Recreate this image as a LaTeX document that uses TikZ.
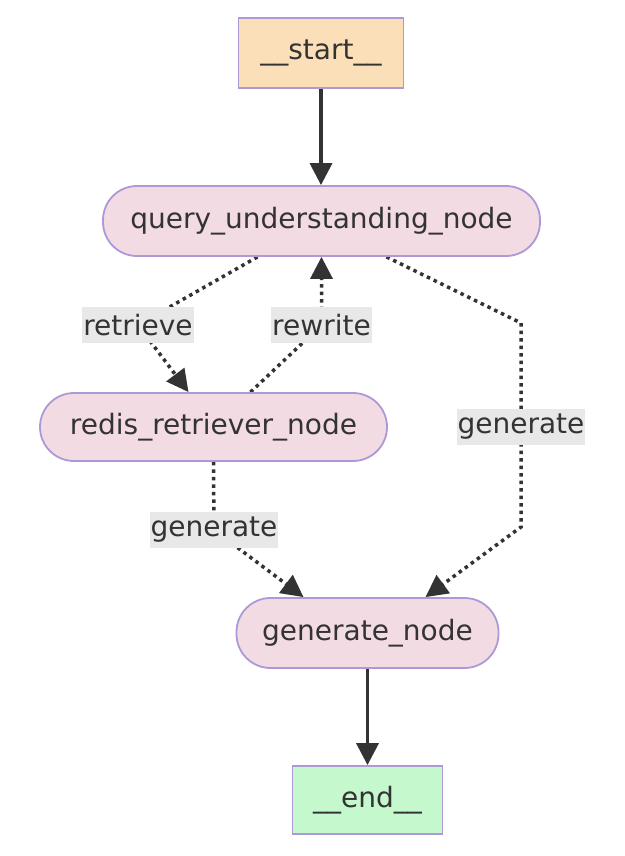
\documentclass[tikz,border=0pt]{standalone}
\usepackage{fontspec}
\setmainfont{DejaVu Sans}
\usetikzlibrary{arrows.meta,backgrounds}
\definecolor{ink}{HTML}{333333}
\definecolor{rim}{HTML}{AD98D8}
\definecolor{startfill}{HTML}{FBDFB8}
\definecolor{pinkfill}{HTML}{F2DBE2}
\definecolor{endfill}{HTML}{C6F8CD}
\definecolor{lblgray}{HTML}{E8E8E8}

\begin{document}
\begin{tikzpicture}[x=1pt,y=-1pt,
  box/.style={draw=rim,line width=1.8pt,text=ink,font=\fontsize{28}{34}\selectfont,minimum height=70pt,inner sep=0pt},
  pill/.style={box,fill=pinkfill,rounded corners=34pt},
  lbl/.style={fill=lblgray,text=ink,font=\fontsize{28}{34}\selectfont,inner xsep=1pt,inner ysep=0pt,minimum height=36pt},
  solidedge/.style={draw=ink,line width=3.5pt,-{Triangle[length=22pt,width=22pt]}},
  dotedge/.style={solidedge,dash pattern=on 3.5pt off 4pt}]
\useasboundingbox (0,0) rectangle (624,856);
\node[box,fill=startfill,minimum width=165pt] (start) at (321,53) {\_\_start\_\_};
\node[pill,minimum width=437pt] (query) at (321.5,221) {query\_understanding\_node};
\node[pill,minimum width=347pt,minimum height=68pt] (retriever) at (213.5,427) {redis\_retriever\_node};
\node[pill,minimum width=262pt] (generator) at (367.5,633) {generate\_node};
\node[box,fill=endfill,minimum width=150pt,minimum height=68pt] (stop) at (367.5,800) {\_\_end\_\_};
\node[lbl] (lblretrieve) at (138,325) {retrieve};
\node[lbl] (lblrewrite) at (321.5,325) {rewrite};
\node[lbl] (lblgenright) at (521,427) {generate};
\node[lbl] (lblgenleft) at (214,530) {generate};
\coordinate (bendtop) at (521,323);
\coordinate (bendlow) at (521,527);
\begin{scope}[on background layer]
\draw[solidedge] (start.south) -- (start.south |- query.north);
\draw[dotedge] ([xshift=-64pt]query.south) -- (lblretrieve.center) -- ([xshift=-25pt]retriever.north);
\draw[dotedge] ([xshift=37pt]retriever.north) -- (lblrewrite.center) -- (query.south);
\draw[dotedge] ([xshift=65pt]query.south) -- (bendtop) -- (lblgenright.center) -- (bendlow) -- ([xshift=58pt]generator.north);
\draw[dotedge] (retriever.south) -- (lblgenleft.center) -- ([xshift=-64pt]generator.north);
\draw[solidedge] (generator.south) -- (stop.north);
\end{scope}
\end{tikzpicture}
\end{document}
